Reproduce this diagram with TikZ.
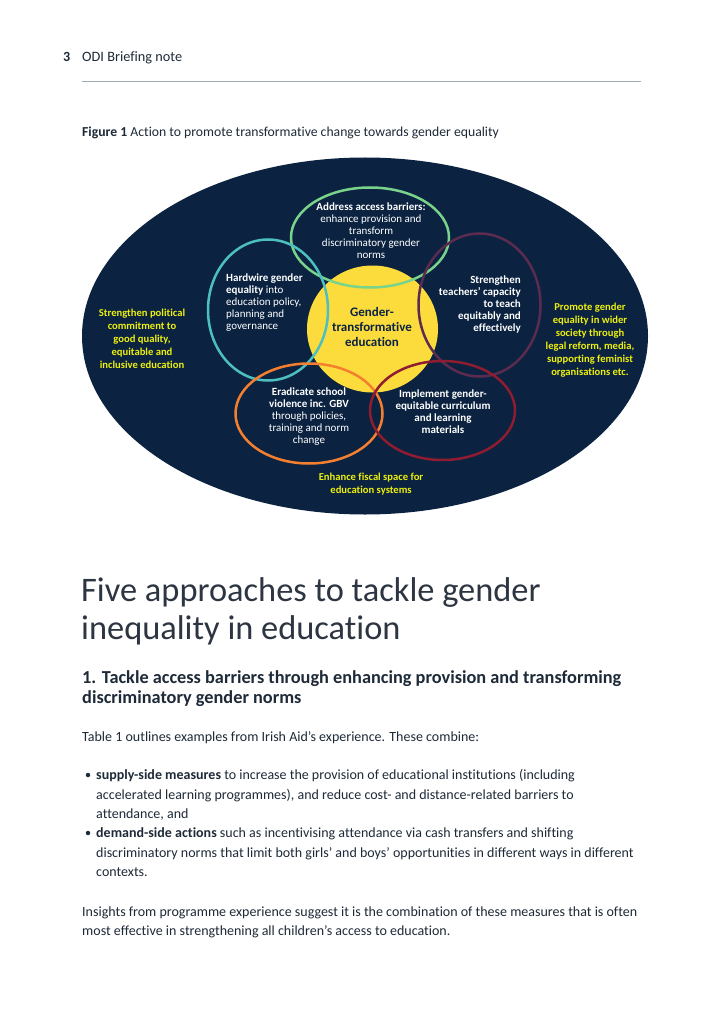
\documentclass[tikz,border=0pt]{standalone}
\usepackage{fontspec}
\setmainfont{Carlito}[Ligatures=NoCommon]
\usetikzlibrary{shapes.geometric}
\definecolor{navy}{HTML}{0B2341}
\definecolor{gyellow}{HTML}{FCDC3C}
\definecolor{ringgreen}{HTML}{79D38A}
\definecolor{ringteal}{HTML}{4DBFC0}
\definecolor{ringplum}{HTML}{5B2B50}
\definecolor{ringorange}{HTML}{F47F2F}
\definecolor{ringred}{HTML}{8F1C30}
\definecolor{ytext}{HTML}{EEF00C}
\definecolor{pagetext}{HTML}{1E2A38}
\definecolor{headtext}{HTML}{2C3541}
\definecolor{rulegray}{HTML}{A3ABB3}
\tikzset{
  ring/.style={ellipse, draw, line width=2.5pt, inner sep=0pt},
  figtxt/.style={text=white, align=center, inner sep=0pt, font=\fontsize{11}{12}\selectfont},
  ytxt/.style={text=ytext, align=center, inner sep=0pt, font=\bfseries\fontsize{10.6}{13}\selectfont},
  bodyline/.style={anchor=base west, inner sep=0pt, text=pagetext, font=\fontsize{14}{16}\selectfont},
}
\begin{document}
\begin{tikzpicture}[x=1pt,y=-1pt]
\fill[white] (0,0) rectangle (724,1024);
\useasboundingbox (0,0) rectangle (724,1024);

% header
\node[anchor=base west, inner sep=0pt, text=pagetext, font=\bfseries\fontsize{14}{16}\selectfont] (pnum) at (63,62) {3};
\node[anchor=base west, inner sep=0pt, text=pagetext, font=\fontsize{14.3}{16}\selectfont] (hdr) at (82,62) {ODI Briefing note};
\coordinate (rulel) at (82,82);
\coordinate (ruler) at (641,82);
\draw[rulegray, line width=1pt] (rulel) -- (ruler);

% caption
\node[bodyline, font=\fontsize{13.7}{15}\selectfont] (cap) at (82,137) {\textbf{Figure 1} Action to promote transformative change towards gender equality};

% figure
\node[ellipse, fill=navy, minimum width=566pt, minimum height=357pt, inner sep=0pt] (outer) at (365,336) {};
\node[ellipse, fill=gyellow, minimum width=131pt, minimum height=127pt, inner sep=0pt] (core) at (372.5,329) {};
\node[ring, draw=ringgreen, minimum width=158pt, minimum height=100pt] (rgreen) at (370,237.5) {};
\node[ring, draw=ringteal, minimum width=120pt, minimum height=141pt] (rteal) at (268,310) {};
\node[ring, draw=ringplum, minimum width=122pt, minimum height=143pt] (rplum) at (479.5,305) {};
\node[ring, draw=ringorange, minimum width=147pt, minimum height=100pt] (rorange) at (309,413.5) {};
\node[ring, draw=ringred, minimum width=145pt, minimum height=99pt] (rred) at (442.5,410.5) {};

\node[align=center, inner sep=0pt, text=navy, font=\bfseries\fontsize{13}{15}\selectfont] (coretxt) at (372,327) {Gender-\\transformative\\education};

\node[figtxt] (tgreen) at (371,231) {\textbf{Address access barriers:}\\enhance provision and\\transform\\discriminatory gender\\norms};
\node[figtxt, align=left, anchor=west] (tteal) at (226,303) {\textbf{Hardwire gender}\\\textbf{equality} into\\education policy,\\planning and\\governance};
\node[figtxt, align=right, anchor=east] (tplum) at (521,305) {\textbf{Strengthen}\\\textbf{teachers' capacity}\\\textbf{to teach}\\\textbf{equitably and}\\\textbf{effectively}};
\node[figtxt] (torange) at (309,417) {\textbf{Eradicate school}\\\textbf{violence inc. GBV}\\through policies,\\training and norm\\change};
\node[figtxt, font=\bfseries\fontsize{11}{12}\selectfont] (tred) at (443,412) {Implement gender-\\equitable curriculum\\and learning\\materials};

\node[ytxt] (tleft) at (142,339) {Strengthen political\\commitment to\\good quality,\\equitable and\\inclusive education};
\node[ytxt] (tright) at (590,340) {Promote gender\\equality in wider\\society through\\legal reform, media,\\supporting feminist\\organisations etc.};
\node[ytxt] (tbottom) at (371,484) {Enhance fiscal space for\\education systems};

% heading
\node[anchor=base west, inner sep=0pt, text=headtext, font=\fontsize{34.4}{38}\selectfont] (h1a) at (81,601) {Five approaches to tackle gender};
\node[anchor=base west, inner sep=0pt, text=headtext, font=\fontsize{34.4}{38}\selectfont] (h1b) at (81,639) {inequality in education};

\node[anchor=base west, inner sep=0pt, text=pagetext, font=\bfseries\fontsize{18.3}{20}\selectfont] (h2a) at (82,683) {1. Tackle access barriers through enhancing provision and transforming};
\node[anchor=base west, inner sep=0pt, text=pagetext, font=\bfseries\fontsize{18.3}{20}\selectfont] (h2b) at (82,703) {discriminatory gender norms};

\node[bodyline] (p1) at (82,741) {Table 1 outlines examples from Irish Aid’s experience. These combine:};

\node[circle, fill=pagetext, minimum size=4.5pt, inner sep=0pt] (b1) at (88,775) {};
\node[bodyline] (l1) at (96,779) {\textbf{supply-side measures} to increase the provision of educational institutions (including};
\node[bodyline] (l2) at (96,799) {accelerated learning programmes), and reduce cost- and distance-related barriers to};
\node[bodyline] (l3) at (96,818) {attendance, and};
\node[circle, fill=pagetext, minimum size=4.5pt, inner sep=0pt] (b2) at (88,833) {};
\node[bodyline] (l4) at (96,837) {\textbf{demand-side actions} such as incentivising attendance via cash transfers and shifting};
\node[bodyline] (l5) at (96,857) {discriminatory norms that limit both girls’ and boys’ opportunities in different ways in different};
\node[bodyline] (l6) at (96,876) {contexts.};

\node[bodyline] (p2a) at (82,916) {Insights from programme experience suggest it is the combination of these measures that is often};
\node[bodyline] (p2b) at (82,935) {most effective in strengthening all children’s access to education.};
\end{tikzpicture}
\end{document}
